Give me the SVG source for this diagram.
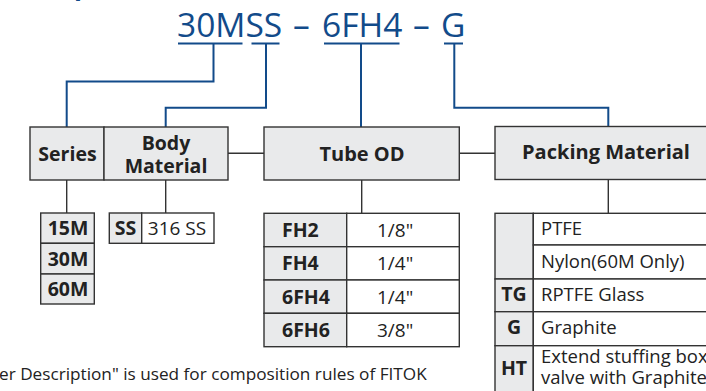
<svg xmlns="http://www.w3.org/2000/svg" width="706" height="391" viewBox="0 0 706 391">
<style>
.code{font-family:"Open Sans","Liberation Sans",sans-serif;fill:#124b8a;font-size:33.5px}
.hdr{fill:#e9eaeb;stroke:#333;stroke-width:1.4}
.cell{fill:#fff;stroke:#333;stroke-width:1.4}
.gcell{fill:#e9eaeb;stroke:#333;stroke-width:1.4}
.b{font-family:"Open Sans","Liberation Sans",sans-serif;font-weight:bold;fill:#222;font-size:19.5px}
.r{font-family:"Open Sans","Liberation Sans",sans-serif;fill:#222;font-size:19px}
.p{font-family:"Open Sans","Liberation Sans",sans-serif;fill:#222;font-size:18.5px}
.f{font-family:"Open Sans","Liberation Sans",sans-serif;fill:#222;font-size:17.2px}
.blue{fill:none;stroke:#124b8a;stroke-width:2}
.gray{fill:none;stroke:#333;stroke-width:1.4}
</style>
<g id="title">
<text class="code" x="74" y="-5" style="font-weight:bold;font-size:26px">p</text>
<text class="code" x="177" y="37">30MSS</text>
<text class="code" x="293" y="37">–</text>
<text class="code" x="322" y="37">6FH4</text>
<text class="code" x="413" y="37">–</text>
<text class="code" x="441" y="37">G</text>
</g>
<g id="connectors">
<path class="blue" d="M178 43.5H242.5M251.5 43.5H279.5M324 43.5H399.5M444 43.5H463"/>
<path class="blue" d="M213.5 43.5V81.5H66.7V127"/>
<path class="blue" d="M266 43.5V107.7H165.7V127"/>
<path class="blue" d="M361 43.5V127"/>
<path class="blue" d="M454.3 43.5V107.7H608.3V127"/>
<path class="gray" d="M228 153.3H264M459.3 153.3H495"/>
<path class="gray" d="M66.7 180V213M165.7 180V213M361.7 180V213.3M608.3 179.5V213.3"/>
</g>
<g id="series">
<rect class="hdr" x="30" y="127" width="74" height="53"/>
<text class="b" x="67.5" y="160.5" text-anchor="middle">Series</text>
</g>
<g id="body-material">
<rect class="hdr" x="104" y="127" width="124" height="53"/>
<text class="b" x="166" y="150" text-anchor="middle">Body</text>
<text class="b" x="166" y="172.5" text-anchor="middle">Material</text>
</g>
<g id="tube-od">
<rect class="hdr" x="264" y="127" width="195.3" height="53"/>
<text class="b" x="362" y="160.5" text-anchor="middle" style="font-size:20px">Tube OD</text>
</g>
<g id="packing-material">
<rect class="hdr" x="495" y="126.5" width="215" height="53"/>
<text class="b" x="606" y="158.5" text-anchor="middle" style="font-size:20px">Packing Material</text>
</g>
<g id="series-table">
<rect class="gcell" x="40.7" y="213" width="53.6" height="30.3"/>
<rect class="gcell" x="40.7" y="243.3" width="53.6" height="30.7"/>
<rect class="gcell" x="40.7" y="274" width="53.6" height="30"/>
<text class="b" x="68" y="235" text-anchor="middle">15M</text>
<text class="b" x="68" y="265.5" text-anchor="middle">30M</text>
<text class="b" x="68" y="296" text-anchor="middle">60M</text>
</g>
<g id="body-table">
<rect class="gcell" x="109.3" y="213" width="32.4" height="30.3"/>
<rect class="cell" x="141.7" y="213" width="72.3" height="30.3"/>
<text class="b" x="125.5" y="235" text-anchor="middle">SS</text>
<text class="r" x="177" y="235" text-anchor="middle">316 SS</text>
</g>
<g id="tube-table">
<rect class="gcell" x="264" y="213.3" width="82.7" height="33.4"/>
<rect class="cell" x="346.7" y="213.3" width="112.6" height="33.4"/>
<rect class="gcell" x="264" y="246.7" width="82.7" height="33.3"/>
<rect class="cell" x="346.7" y="246.7" width="112.6" height="33.3"/>
<rect class="gcell" x="264" y="280" width="82.7" height="33.3"/>
<rect class="cell" x="346.7" y="280" width="112.6" height="33.3"/>
<rect class="gcell" x="264" y="313.3" width="82.7" height="33.4"/>
<rect class="cell" x="346.7" y="313.3" width="112.6" height="33.4"/>
<text class="b" x="282" y="236.5">FH2</text>
<text class="b" x="282" y="270">FH4</text>
<text class="b" x="282" y="303.5">6FH4</text>
<text class="b" x="282" y="336.5">6FH6</text>
<text class="r" x="377" y="236.5">1/8"</text>
<text class="r" x="377" y="270">1/4"</text>
<text class="r" x="377" y="303.5">1/4"</text>
<text class="r" x="377" y="336.5">3/8"</text>
</g>
<g id="packing-table">
<rect class="gcell" x="495" y="213.3" width="38.3" height="65.7"/>
<rect class="cell" x="533.3" y="213.3" width="180" height="31.7"/>
<rect class="cell" x="533.3" y="245" width="180" height="34"/>
<rect class="gcell" x="495" y="279" width="38.3" height="32.7"/>
<rect class="cell" x="533.3" y="279" width="180" height="32.7"/>
<rect class="gcell" x="495" y="311.7" width="38.3" height="34"/>
<rect class="cell" x="533.3" y="311.7" width="180" height="34"/>
<rect class="gcell" x="495" y="345.7" width="38.3" height="60"/>
<rect class="cell" x="533.3" y="345.7" width="180" height="60"/>
<text class="p" x="541" y="235">PTFE</text>
<text class="p" x="541" y="268">Nylon(60M Only)</text>
<text class="b" x="514" y="301" text-anchor="middle">TG</text>
<text class="p" x="541" y="301">RPTFE Glass</text>
<text class="b" x="514" y="334" text-anchor="middle">G</text>
<text class="p" x="541" y="334">Graphite</text>
<text class="b" x="514" y="375" text-anchor="middle">HT</text>
<text class="p" x="541" y="363">Extend stuffing box</text>
<text class="p" x="541" y="384">valve with Graphite</text>
</g>
<g id="footnote">
<text class="f" x="-1" y="380">er Description" is used for composition rules of FITOK</text>
</g>
</svg>
